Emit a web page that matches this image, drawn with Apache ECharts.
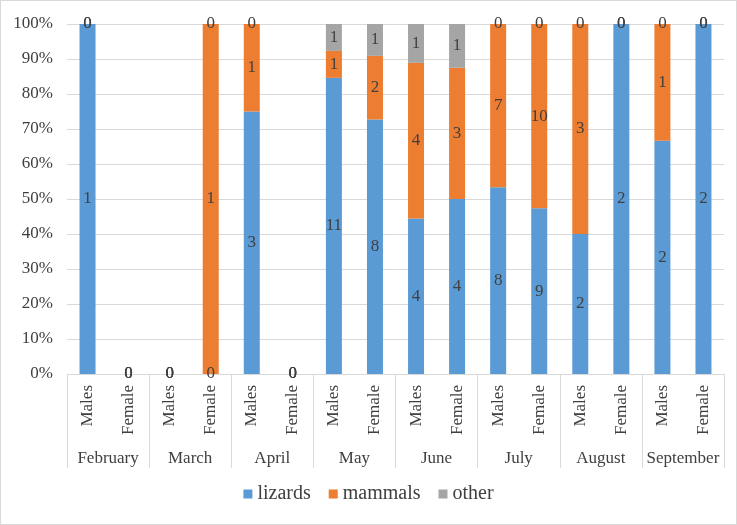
<!DOCTYPE html>
<html>
<head>
<meta charset="utf-8">
<script src="https://cdn.jsdelivr.net/npm/echarts@6/dist/echarts.min.js"></script>
<style>
  html, body { margin: 0; padding: 0; background: #fff; }
  #chart { width: 735px; height: 523px; border: 1px solid #d9d9d9; }
</style>
</head>
<body>
<div id="chart"></div>
<script>
// counts per month / sex
const months = ["February", "March", "April", "May", "June", "July", "August", "September"];
const sexes = ["Males", "Female"];
const lizards = [1, 0, 0, 0, 3, 0, 11, 8, 4, 4, 8, 9, 2, 2, 2, 2];
const mammals = [0, 0, 0, 1, 1, 0, 1, 2, 4, 3, 7, 10, 3, 0, 1, 0];
const other = [0, 0, 0, 0, 0, 0, 1, 1, 1, 1, 0, 0, 0, 0, 0, 0];
const yTicks = [0, 10, 20, 30, 40, 50, 60, 70, 80, 90, 100];

let categories = [];
months.forEach(function () {
  sexes.forEach(function (s) { categories.push(s); });
});

// 100% stacked: share of each column's total
function share(arr) {
  return arr.map(function (v, i) {
    let total = lizards[i] + mammals[i] + other[i];
    return total === 0 ? 0 : (v / total) * 100;
  });
}

const font = "Liberation Serif";
const textColor = "#404040";

let myChart = echarts.init(document.getElementById("chart"));

function makeSeries(name, counts, color) {
  return {
    name: name,
    type: "bar",
    stack: "all",
    barWidth: 16,
    data: share(counts),
    itemStyle: { color: color },
    label: {
      show: true,
      position: "inside",
      color: textColor,
      fontFamily: font,
      fontSize: 17,
      formatter: function (p) { return counts[p.dataIndex]; },
    },
  };
}

let option = {
  animation: false,
  textStyle: { fontFamily: font },
  grid: { left: 66, right: 12, top: 23, bottom: 150 },
  legend: {
    bottom: 15,
    left: "center",
    icon: "rect",
    itemWidth: 9,
    itemHeight: 9,
    itemGap: 18,
    textStyle: { fontFamily: font, fontSize: 20, color: textColor },
    data: ["lizards", "mammals", "other"],
  },
  xAxis: [
    {
      type: "category",
      data: categories,
      axisLine: { lineStyle: { color: "#d9d9d9" } },
      axisTick: { show: false },
      axisLabel: {
        interval: 0,
        rotate: 90,
        margin: 11,
        color: textColor,
        fontFamily: font,
        fontSize: 17,
      },
    },
    {
      type: "category",
      position: "bottom",
      data: months,
      axisLine: { show: false },
      axisTick: { show: true, length: 94, interval: 0, lineStyle: { color: "#d9d9d9" } },
      axisLabel: {
        interval: 0,
        margin: 76,
        color: textColor,
        fontFamily: font,
        fontSize: 17,
      },
    },
  ],
  yAxis: {
    type: "value",
    min: yTicks[0],
    max: yTicks[yTicks.length - 1],
    interval: 10,
    axisLine: { show: false },
    axisTick: { show: false },
    splitLine: { lineStyle: { color: "#d9d9d9" } },
    axisLabel: {
      margin: 14,
      color: textColor,
      fontFamily: font,
      fontSize: 17,
      formatter: "{value}%",
    },
  },
  series: [
    makeSeries("lizards", lizards, "#5b9bd5"),
    makeSeries("mammals", mammals, "#ed7d31"),
    makeSeries("other", other, "#a5a5a5"),
  ],
};

myChart.setOption(option);
</script>
</body>
</html>
